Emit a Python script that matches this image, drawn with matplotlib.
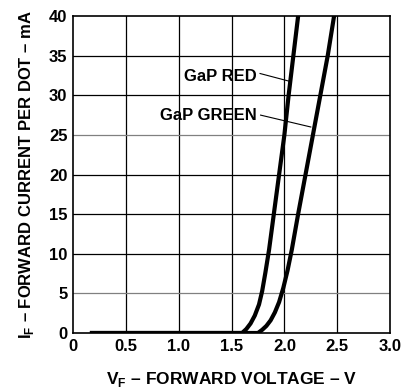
import matplotlib
matplotlib.use('Agg')
import matplotlib.pyplot as plt

plt.rcParams['font.family'] = 'Liberation Sans'
plt.rcParams['font.weight'] = 'bold'
plt.rcParams['mathtext.fontset'] = 'custom'
plt.rcParams['mathtext.bf'] = 'Liberation Sans:bold'
plt.rcParams['mathtext.rm'] = 'Liberation Sans:bold'

#----forward current curves----
red_v = [0.18, 1.60, 1.64, 1.68, 1.72, 1.76, 1.79, 1.82, 1.855, 1.90, 1.95, 2.00, 2.04, 2.085, 2.13]
red_i = [0, 0, 0.5, 1.2, 2.2, 3.6, 5.3, 7.6, 10.5, 15, 20, 25, 30, 35, 40]

green_v = [0.18, 1.75, 1.79, 1.83, 1.87, 1.91, 1.95, 1.99, 2.03, 2.07, 2.13, 2.20, 2.27, 2.34, 2.41, 2.47]
green_i = [0, 0, 0.4, 0.9, 1.6, 2.6, 3.9, 5.7, 7.9, 10.5, 15, 20, 25, 30, 35, 40]

x_ticks = [0, 0.5, 1.0, 1.5, 2.0, 2.5, 3.0]
x_labels = ['0', '0.5', '1.0', '1.5', '2.0', '2.5', '3.0']
y_ticks = [0, 5, 10, 15, 20, 25, 30, 35, 40]

fig = plt.figure(figsize=(4.03, 3.92), dpi=100)
ax = fig.add_axes([0.181, 0.1505, 0.787, 0.8085])

# grid - the 5 and 25 lines print lighter in the original
for xv in x_ticks[1:-1]:
    ax.axvline(xv, color='black', lw=0.9, zorder=1)
for yv in y_ticks[1:-1]:
    c = '#808080' if yv in (5, 25) else 'black'
    ax.axhline(yv, color=c, lw=0.9, zorder=1)

ax.plot(red_v, red_i, color='black', lw=3, solid_joinstyle='round', zorder=3)
ax.plot(green_v, green_i, color='black', lw=3, solid_joinstyle='round', zorder=3)

# labels with leader lines
ax.text(1.74, 32.4, 'GaP RED', ha='right', va='center', fontsize=12, fontweight='bold')
ax.plot([1.77, 2.04], [32.75, 31.8], color='black', lw=0.8)
ax.text(1.74, 27.4, 'GaP GREEN', ha='right', va='center', fontsize=12, fontweight='bold')
ax.plot([1.775, 2.25], [27.5, 26.0], color='black', lw=0.8)

ax.set_xlim(0, 3.0)
ax.set_ylim(0, 40)
ax.set_xticks(x_ticks)
ax.set_xticklabels(x_labels)
ax.set_yticks(y_ticks)
ax.tick_params(length=0, labelsize=12)
ax.tick_params(axis='y', pad=4)
ax.tick_params(axis='x', pad=4)
for lab in ax.get_xticklabels() + ax.get_yticklabels():
    lab.set_fontweight('bold')
for s in ax.spines.values():
    s.set_linewidth(1.2)

ax.set_xlabel('V$_\\mathbf{F}$ – FORWARD VOLTAGE – V', fontsize=12.5, fontweight='bold', labelpad=12)
ax.set_ylabel('I$_\\mathbf{F}$ – FORWARD CURRENT PER DOT – mA', fontsize=12, fontweight='bold', labelpad=9)

plt.savefig('out.png', dpi=100)
